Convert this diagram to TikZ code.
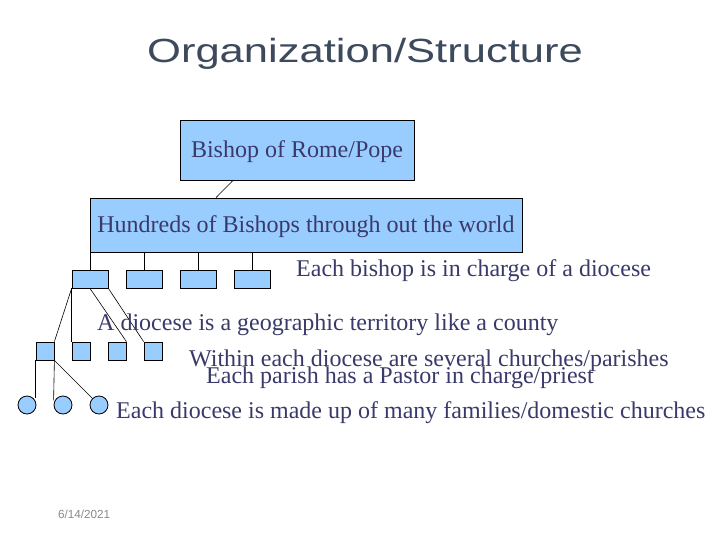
\documentclass[tikz,border=0pt]{standalone}
\usepackage{fontspec}
\setmainfont{Liberation Serif}
\newfontfamily\titlefont{Liberation Sans}
\definecolor{boxblue}{HTML}{99CCFF}
\definecolor{txtnavy}{HTML}{3A3A6A}
\definecolor{titlecol}{HTML}{3D4A5E}
\definecolor{datecol}{HTML}{8A8A8A}
\begin{document}
\begin{tikzpicture}[x=1pt,y=-1pt,
  orgbox/.style={draw=black,line width=0.8pt,fill=boxblue,inner sep=0pt,
    text=txtnavy,font=\fontsize{24}{24}\selectfont,text height=16pt,text depth=0pt},
  smallbox/.style={draw=black,line width=0.8pt,fill=boxblue,inner sep=0pt,
    minimum height=18pt},
  famcircle/.style={circle,draw=black,line width=0.8pt,fill=boxblue,inner sep=0pt,
    minimum size=18pt},
  link/.style={draw=black,line width=0.6pt},
  note/.style={anchor=base west,inner sep=0pt,text=txtnavy,
    font=\fontsize{24}{24}\selectfont}]
\useasboundingbox[fill=white] (0,0) rectangle (720,540);

% title
\node[anchor=base,inner sep=0pt,text=titlecol,font=\titlefont\fontsize{33.5}{34}\selectfont]
  (title) at (365,63) {\scalebox{1.3}[1]{Organization/Structure}};

% top boxes
\node[orgbox,minimum width=234pt,minimum height=60pt] (pope) at (297,150) {Bishop of Rome/Pope};
\node[orgbox,minimum width=432pt,minimum height=54pt] (bishops) at (306,225) {Hundreds of Bishops through out the world};

% dioceses
\node[smallbox,minimum width=36pt] (d1) at (90,279) {};
\node[smallbox,minimum width=36pt] (d2) at (144,279) {};
\node[smallbox,minimum width=36pt] (d3) at (198,279) {};
\node[smallbox,minimum width=36pt] (d4) at (252,279) {};

% parishes
\node[smallbox,minimum width=18pt] (p1) at (45,351) {};
\node[smallbox,minimum width=18pt] (p2) at (81,351) {};
\node[smallbox,minimum width=18pt] (p3) at (117,351) {};
\node[smallbox,minimum width=18pt] (p4) at (153,351) {};

% families
\node[famcircle] (f1) at (27,405) {};
\node[famcircle] (f2) at (63,405) {};
\node[famcircle] (f3) at (99,405) {};

% connectors
\draw[link] ([xshift=-64pt]pope.south) -- ([xshift=-90pt]bishops.north);
\foreach \d in {d1,d2,d3,d4}{\draw[link] (\d.north) -- (\d.north |- bishops.south);}
\draw[link] (d1.south west) -- (p1.north east);
\draw[link] (d1.south west) -- (p2.north west);
\draw[link] (d1.south) -- (p3.north east);
\draw[link] (d1.south east) -- (p4.north west);
\draw[link] (p1.south west) -- (p1.south west |- f1.north east);
\draw[link] (p1.south east) -- ([yshift=-2pt]f2.west |- f2.north west);
\draw[link] (p1.south east) -- (f3.north west);

% notes
\node[note] (n1) at (296,276) {Each bishop is in charge of a diocese};
\node[note] (n2) at (97,330) {A diocese is a geographic territory like a county};
\node[note] (n3) at (189,366) {Within each diocese are several churches/parishes};
\node[note] (n4) at (206,383) {Each parish has a Pastor in charge/priest};
\node[note] (n5) at (116,418) {Each diocese is made up of many families/domestic churches};

% date
\node[anchor=base west,inner sep=0pt,text=datecol,font=\titlefont\fontsize{11.7}{12}\selectfont]
  (date) at (58,518) {6/14/2021};
\end{tikzpicture}
\end{document}
